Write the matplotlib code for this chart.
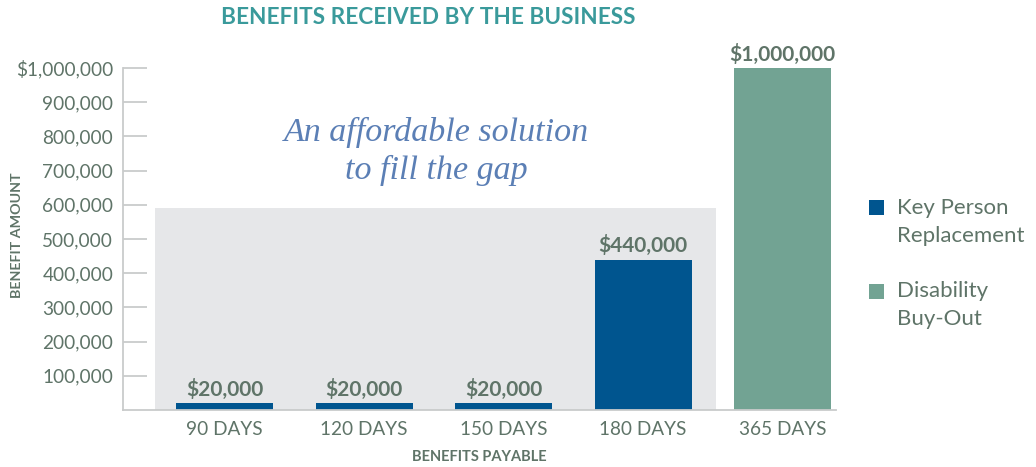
import matplotlib
matplotlib.use("Agg")
import matplotlib.pyplot as plt
from matplotlib.patches import Rectangle

plt.rcParams['font.family'] = ['Lato', 'DejaVu Sans']

# данные
periods = ['90 DAYS', '120 DAYS', '150 DAYS', '180 DAYS', '365 DAYS']
amounts = [20000, 20000, 20000, 440000, 1000000]
value_labels = ['$20,000', '$20,000', '$20,000', '$440,000', '$1,000,000']
series = ['Key Person', 'Key Person', 'Key Person', 'Key Person', 'Buy-Out']
y_ticks = [100000, 200000, 300000, 400000, 500000, 600000, 700000, 800000, 900000, 1000000]
y_tick_labels = ['100,000', '200,000', '300,000', '400,000', '500,000',
                 '600,000', '700,000', '800,000', '900,000', '$1,000,000']
gap_top = 590000          # верх серой зоны
gap_span = (-0.5, 3.52)   # по оси x

blue = '#00558f'
green = '#72a393'
text_col = '#5f7468'
colors = {'Key Person': blue, 'Buy-Out': green}

fig = plt.figure(figsize=(10.36, 4.67), dpi=100)
ax = fig.add_axes([123 / 1036, 1 - 410 / 467, (836 - 123) / 1036, (410 - 68) / 467])

# серая зона "gap"
ax.add_patch(Rectangle((gap_span[0], 0), gap_span[1] - gap_span[0], gap_top,
                       facecolor='#e6e7e9', edgecolor='none', zorder=0))

x = list(range(len(periods)))
bars = ax.bar(x, amounts, width=0.695, color=[colors[s] for s in series], zorder=2)

for xi, val, lab in zip(x, amounts, value_labels):
    ax.annotate(lab, (xi, val), xytext=(0, 2.5), textcoords='offset points',
                ha='center', va='bottom', fontsize=15, fontweight='bold',
                color=text_col, annotation_clip=False)

ax.set_xlim(-0.728, 4.383)
ax.set_ylim(0, 1000000)
ax.set_yticks(y_ticks)
ax.set_yticklabels(y_tick_labels)
ax.set_xticks(x)
ax.set_xticklabels(periods)

for side in ['top', 'right']:
    ax.spines[side].set_visible(False)
for side in ['left', 'bottom']:
    ax.spines[side].set_color('#c9cbcb')
    ax.spines[side].set_linewidth(1.3)

ax.tick_params(axis='y', direction='in', length=17, width=1.3, color='#c9cbcb',
               pad=7, labelsize=13.7, labelcolor=text_col)
ax.tick_params(axis='x', length=0, pad=8, labelsize=13.7, labelcolor=text_col)
ax.set_facecolor('none')

# текст в серой зоне
ax.text(1.518, 755000, 'An affordable solution\nto fill the gap',
        ha='center', va='center', fontsize=24.5, style='italic',
        family=['Liberation Serif', 'DejaVu Serif'], color='#5b7fb5',
        linespacing=1.3)

fig.text(428 / 1036, 1 - 17 / 467, 'BENEFITS RECEIVED BY THE BUSINESS',
         ha='center', va='center', fontsize=16.3, fontweight='bold', color='#3a9a9b')
fig.text(17.5 / 1036, 1 - 235 / 467, 'BENEFIT AMOUNT', rotation=90,
         ha='center', va='center', fontsize=10.3, fontweight='bold', color=text_col)
fig.text(479 / 1036, 1 - 457 / 467, 'BENEFITS PAYABLE',
         ha='center', va='center', fontsize=10.5, fontweight='bold', color=text_col)

# легенда вручную
legend_items = [('Key Person\nReplacement', blue, 208), ('Disability\nBuy-Out', green, 291)]
for lab, col, ypix in legend_items:
    fig.patches.append(Rectangle((869 / 1036, 1 - (ypix + 7.5) / 467), 15 / 1036, 15 / 467,
                                 transform=fig.transFigure, facecolor=col, edgecolor='none'))
    fig.text(897 / 1036, 1 - (ypix - 10) / 467, lab, ha='left', va='top',
             fontsize=16, color=text_col, linespacing=1.5)

fig.savefig('out.png', dpi=100)
